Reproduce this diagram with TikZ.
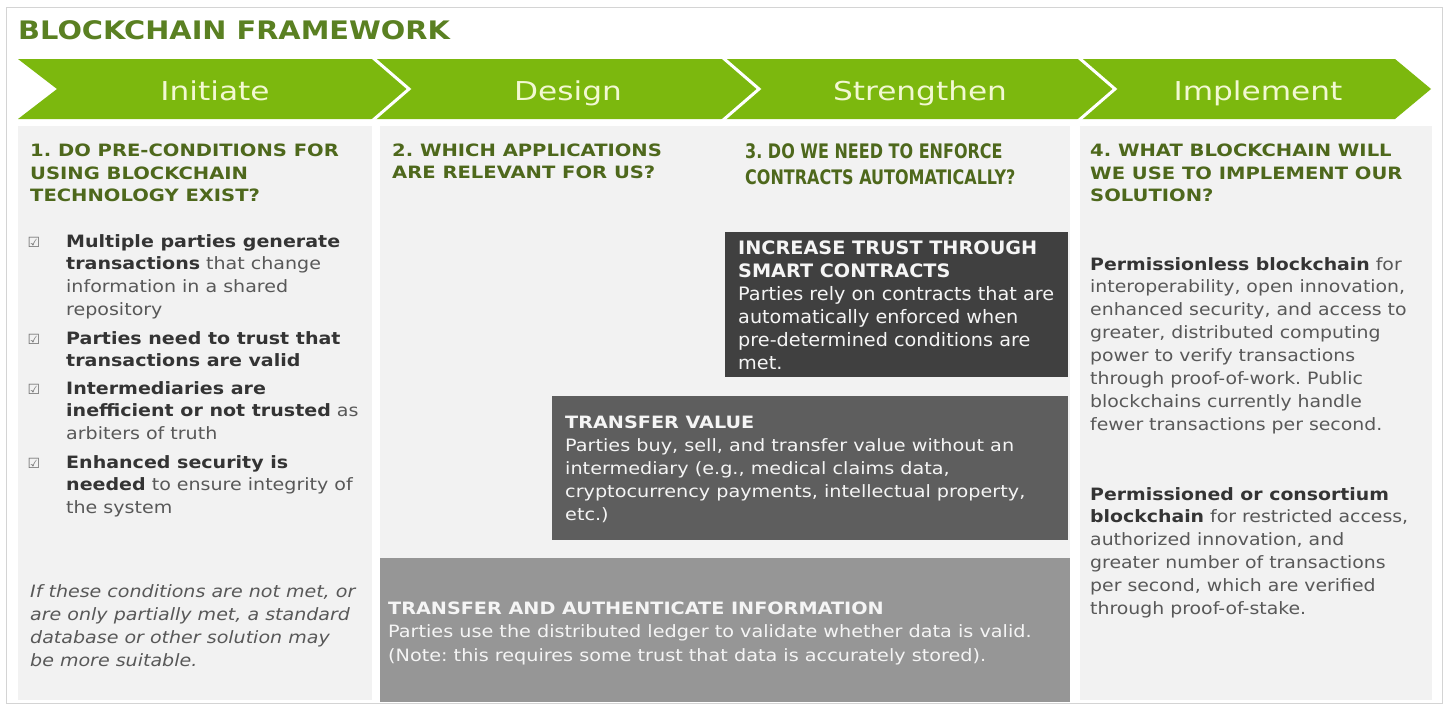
\documentclass[tikz,border=0pt]{standalone}
\usepackage{fontspec}
\usepackage{graphicx}
\setmainfont{DejaVu Sans}
\definecolor{bandgreen}{RGB}{124,184,14}
\definecolor{chevtext}{RGB}{242,248,210}
\definecolor{titlegreen}{RGB}{90,128,34}
\definecolor{headgreen}{RGB}{78,104,28}
\definecolor{panelgray}{RGB}{242,242,242}
\definecolor{framegray}{RGB}{212,212,212}
\definecolor{boxdark}{RGB}{64,64,64}
\definecolor{boxmid}{RGB}{94,94,94}
\definecolor{boxlight}{RGB}{150,150,150}
\definecolor{bodybold}{RGB}{52,52,52}
\definecolor{bodytext}{RGB}{88,88,88}
\definecolor{boxtext}{RGB}{245,245,245}
\newcommand{\tb}[2]{\scalebox{#1}[1]{\begin{tabular}[t]{@{}l@{}}#2\end{tabular}}}
\begin{document}
\frenchspacing
\begin{tikzpicture}[x=1pt,y=-1pt,
  txt/.style={anchor=base west, inner sep=0pt, align=left},
  panel/.style={fill=panelgray, draw=none},
  chevlabel/.style={anchor=base, inner sep=0pt, text=chevtext, font=\fontsize{26}{30}\selectfont},
  headtxt/.style={txt, text=headgreen, font=\fontsize{17}{22.5}\selectfont\bfseries},
  bodytxt/.style={txt, text=bodytext, font=\fontsize{17}{22.8}\selectfont},
  boxtxt/.style={txt, text=boxtext, font=\fontsize{17}{23.2}\selectfont},
  chk/.style={anchor=center, inner sep=0pt, text=bodytext!85, font=\fontsize{14}{16}\selectfont},
  sep/.style={draw=white, line width=3pt, line join=miter}
]
\useasboundingbox (0,0) rectangle (1445,704);
\fill[white] (0,0) rectangle (1445,704);
\draw[framegray, line width=1pt] (6,7) rectangle (1442,703);

% title
\node[txt, text=titlegreen, font=\fontsize{25.5}{30}\selectfont\bfseries] (title) at (18,39.5) {\scalebox{1.13}[1]{BLOCKCHAIN FRAMEWORK}};

% chevron band
\fill[bandgreen] (18,59) -- (1395,59) -- (1431,89) -- (1395,119) -- (18,119) -- (57,89) -- cycle;
\draw[sep] (372,57) -- (409,89) -- (372,121);
\draw[sep] (722,57) -- (759,89) -- (722,121);
\draw[sep] (1078,57) -- (1115,89) -- (1078,121);
\node[chevlabel] (c1) at (215,100) {\scalebox{1.2}[1]{Initiate}};
\node[chevlabel] (c2) at (568,100) {\scalebox{1.2}[1]{Design}};
\node[chevlabel] (c3) at (920,100) {\scalebox{1.2}[1]{Strengthen}};
\node[chevlabel] (c4) at (1258,100) {\scalebox{1.2}[1]{Implement}};

% panels
\path[panel] (18,126) rectangle (372,700);
\path[panel] (380,126) rectangle (1070,700);
\path[panel] (1080,126) rectangle (1432,700);

% column 1
\node[headtxt] (h1) at (30,156.5) {\tb{1.15}{1. DO PRE-CONDITIONS FOR\\USING BLOCKCHAIN\\TECHNOLOGY EXIST?}};
\node[chk] (k1) at (34,242) {☑};
\node[chk] (k2) at (34,339) {☑};
\node[chk] (k3) at (34,389) {☑};
\node[chk] (k4) at (34,463) {☑};
\node[bodytxt] (i1) at (66,247) {\tb{1.12}{\textcolor{bodybold}{\textbf{Multiple parties generate}}\\\textcolor{bodybold}{\textbf{transactions}} that change\\information in a shared\\repository}};
\node[bodytxt] (i2) at (66,344) {\tb{1.12}{\textcolor{bodybold}{\textbf{Parties need to trust that}}\\\textcolor{bodybold}{\textbf{transactions are valid}}}};
\node[bodytxt] (i3) at (66,394) {\tb{1.12}{\textcolor{bodybold}{\textbf{Intermediaries are}}\\\textcolor{bodybold}{\textbf{inefficient or not trusted}} as\\arbiters of truth}};
\node[bodytxt] (i4) at (66,468) {\tb{1.12}{\textcolor{bodybold}{\textbf{Enhanced security is}}\\\textcolor{bodybold}{\textbf{needed}} to ensure integrity of\\the system}};
\node[bodytxt, font=\fontsize{17}{23}\selectfont\itshape] (note) at (30,597) {\tb{1.12}{If these conditions are not met, or\\are only partially met, a standard\\database or other solution may\\be more suitable.}};

% column 2 / 3 headings
\node[headtxt, font=\fontsize{17}{22}\selectfont\bfseries] (h2) at (392,156.5) {\tb{1.15}{2. WHICH APPLICATIONS\\ARE RELEVANT FOR US?}};
\node[headtxt, font=\fontsize{20}{26.5}\selectfont\bfseries] (h3) at (745,158) {\tb{0.8}{3. DO WE NEED TO ENFORCE\\CONTRACTS AUTOMATICALLY?}};

% boxes
\fill[boxdark] (725,232) rectangle (1068,377);
\fill[boxmid] (552,396) rectangle (1068,540);
\fill[boxlight] (380,558) rectangle (1070,702);
\node[boxtxt, font=\fontsize{18.5}{23}\selectfont] (b1) at (738,254) {\tb{1.04}{\textbf{INCREASE TRUST THROUGH}\\\textbf{SMART CONTRACTS}\\Parties rely on contracts that are\\automatically enforced when\\pre-determined conditions are\\met.}};
\node[boxtxt] (b2) at (565,428) {\tb{1.13}{\textbf{TRANSFER VALUE}\\Parties buy, sell, and transfer value without an\\intermediary (e.g., medical claims data,\\cryptocurrency payments, intellectual property,\\etc.)}};
\node[boxtxt, font=\fontsize{17}{23.5}\selectfont] (b3) at (388,614) {\tb{1.13}{\textbf{TRANSFER AND AUTHENTICATE INFORMATION}\\Parties use the distributed ledger to validate whether data is valid.\\(Note: this requires some trust that data is accurately stored).}};

% column 4
\node[headtxt] (h4) at (1090,156.5) {\tb{1.15}{4. WHAT BLOCKCHAIN WILL\\WE USE TO IMPLEMENT OUR\\SOLUTION?}};
\node[bodytxt, font=\fontsize{17}{22.9}\selectfont] (p1) at (1090,270) {\tb{1.11}{\textcolor{bodybold}{\textbf{Permissionless blockchain}} for\\interoperability, open innovation,\\enhanced security, and access to\\greater, distributed computing\\power to verify transactions\\through proof-of-work. Public\\blockchains currently handle\\fewer transactions per second.}};
\node[bodytxt, font=\fontsize{17}{22.9}\selectfont] (p2) at (1090,500) {\tb{1.11}{\textcolor{bodybold}{\textbf{Permissioned or consortium}}\\\textcolor{bodybold}{\textbf{blockchain}} for restricted access,\\authorized innovation, and\\greater number of transactions\\per second, which are verified\\through proof-of-stake.}};
\end{tikzpicture}
\end{document}
